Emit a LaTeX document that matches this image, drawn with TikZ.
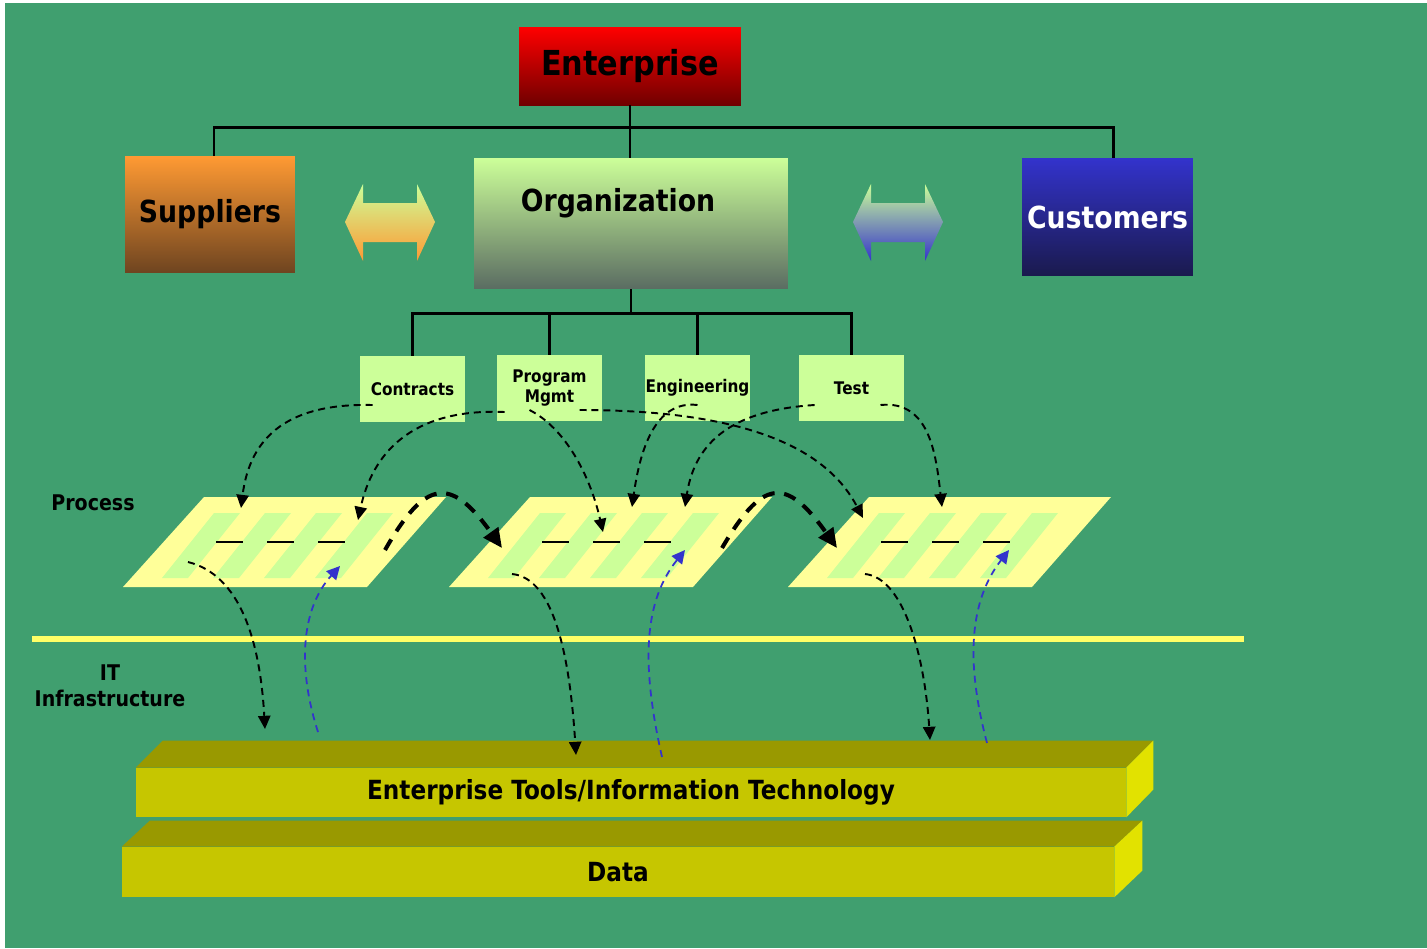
\documentclass[tikz,border=0pt]{standalone}
\usepackage{fontspec}
\setmainfont{DejaVu Sans}[FakeStretch=0.88]
\usetikzlibrary{arrows.meta}
\definecolor{bggreen}{RGB}{64,159,111}
\definecolor{unitgreen}{RGB}{204,255,153}
\definecolor{procyellow}{RGB}{255,255,153}
\definecolor{lineyellow}{RGB}{255,255,102}
\definecolor{barfront}{RGB}{198,198,0}
\definecolor{bartop}{RGB}{153,153,0}
\definecolor{barside}{RGB}{226,226,0}
\definecolor{fbblue}{RGB}{51,51,204}
\begin{document}
\begin{tikzpicture}[x=0.02cm, y=-0.02cm,
		headbox/.style={inner sep=0pt, text centered, font=\bfseries\fontsize{17.3}{20}\selectfont},
		unitbox/.style={fill=unitgreen, minimum width=2.1cm, minimum height=1.32cm, inner sep=0pt, align=center, font=\bfseries\fontsize{9.9}{11.9}\selectfont},
		tree/.style={draw=black, line width=1.6pt},
		flow/.style={draw=black, line width=1.1pt, dash pattern=on 4pt off 2.8pt, -{Triangle[length=7.5pt,width=7pt]}},
		handoff/.style={draw=black, line width=2.3pt, dash pattern=on 7pt off 5.5pt, -{Triangle[length=11pt,width=10pt]}},
		feedback/.style={draw=fbblue, line width=1pt, dash pattern=on 4pt off 3pt, -{Triangle[length=7.5pt,width=7.5pt]}},
		layerlabel/.style={font=\bfseries\fontsize{12.3}{14.7}\selectfont, align=center},
		bartext/.style={font=\bfseries\fontsize{15}{18}\selectfont},
	]
	% Background
	\useasboundingbox (0,0) rectangle (1427,948);
	\fill[white] (0,0) rectangle (1427,948);
	\fill[bggreen] (5,3) rectangle (1427,948);
	% Draw diagram elements
	\node (enterprise) [headbox,minimum width=4.44cm,minimum height=1.56cm,top color=red,bottom color={rgb,255:red,112;green,0;blue,0},font=\bfseries\fontsize{19.6}{22}\selectfont] at (630,66) {Enterprise};
	\node (suppliers) [headbox,minimum width=3.4cm,minimum height=2.34cm,top color={rgb,255:red,255;green,154;blue,51},bottom color={rgb,255:red,110;green,68;blue,32}] at (210,214.5) {Suppliers};
	\node (organization) [headbox,minimum width=6.28cm,minimum height=2.62cm,top color=unitgreen,bottom color={rgb,255:red,90;green,108;blue,98}] at (631,223.5) {};
	\node (orgtitle) [headbox] at (618,203) {Organization};
	\node (customers) [headbox,minimum width=3.42cm,minimum height=2.36cm,top color=fbblue,bottom color={rgb,255:red,26;green,26;blue,77},text=white] at (1107.5,217) {Customers};
	\node (contracts) [unitbox] at (412.5,389) {Contracts};
	\node (program) [unitbox] at (549.5,388) {Program\\Mgmt};
	\node (engineering) [unitbox] at (697.5,388) {Engineering};
	\node (test) [unitbox] at (851.5,388) {Test};
	\node (process) [layerlabel] at (93,503) {Process};
	\node (infra) [layerlabel] at (110,686) {IT\\Infrastructure};
	% Draw tree lines
	\draw[tree] (enterprise.south) -- (enterprise.south |- organization.north);
	\draw[tree] ([shift={(4,0)}]suppliers.north) -- ++(0,-28) -| ([shift={(6,0)}]customers.north);
	\draw[tree] (organization.south) -- ++(0,25);
	\draw[tree] (contracts.north) -- ++(0,-42) -| (test.north);
	\draw[tree] (program.north) -- ++(0,-41);
	\draw[tree] (engineering.north) -- ++(0,-41);
	% Exchange arrows
	\shade[top color=unitgreen,bottom color={rgb,255:red,255;green,153;blue,51}] (345,222) -- (363,184) -- (363,203) -- (417,203) -- (417,184) -- (435,222) -- (417,261) -- (417,242) -- (363,242) -- (363,261) -- cycle;
	\shade[top color=unitgreen,bottom color=fbblue] (853,222) -- (871,184) -- (871,203) -- (925,203) -- (925,184) -- (943,222) -- (925,261) -- (925,242) -- (871,242) -- (871,261) -- cycle;
	% Process planes
	\foreach \bx in {123,449,788} {
		\fill[procyellow] (\bx,587) -- (\bx+244,587) -- (\bx+323,497) -- (\bx+81,497) -- cycle;
		\foreach \i in {0,...,3}
			\fill[unitgreen] (\bx+39+51*\i,578) -- (\bx+65+51*\i,578) -- (\bx+117+51*\i,513) -- (\bx+91+51*\i,513) -- cycle;
		\foreach \i in {0,...,2}
			\draw[black,line width=0.8pt] (\bx+93+51*\i,542) -- (\bx+120+51*\i,542);
	}
	% Separator
	\draw[lineyellow,line width=3.4pt] (32,639) -- (1244,639);
	% IT layers
	\node (tools) [fill=barfront,minimum width=19.8cm,minimum height=0.98cm,inner sep=0pt,bartext] at (631,792.5) {Enterprise Tools/Information Technology};
	\fill[bartop] (tools.north west) -- ++(27,-27) -- ([shift={(27,-27)}]tools.north east) -- (tools.north east) -- cycle;
	\fill[barside] (tools.north east) -- ++(27,-27) -- ++(0,49) -- (tools.south east) -- cycle;
	\node (data) [fill=barfront,minimum width=19.84cm,minimum height=1cm,inner sep=0pt,bartext] at (618,872) {Data};
	\fill[bartop] (data.north west) -- ++(28,-26) -- ([shift={(28,-26)}]data.north east) -- (data.north east) -- cycle;
	\fill[barside] (data.north east) -- ++(28,-26) -- ++(0,50) -- (data.south east) -- cycle;
	% Arrow end points
	\coordinate (p1a) at (241,508);
	\coordinate (p1b) at (358,520);
	\coordinate (p2a) at (603,532);
	\coordinate (p2b) at (632,507);
	\coordinate (p2c) at (685,507);
	\coordinate (p3a) at (863,518);
	\coordinate (p3b) at (942,507);
	\coordinate (p1out) at (385,550);
	\coordinate (p2in) at (502,548);
	\coordinate (p2out) at (722,548);
	\coordinate (p3in) at (837,548);
	\coordinate (p1down) at (188,562);
	\coordinate (p2down) at (512,574);
	\coordinate (p3down) at (865,574);
	\coordinate (p1up) at (340,566);
	\coordinate (p2up) at (685,550);
	\coordinate (p3up) at (1009,550);
	\coordinate (it1in) at (265,729);
	\coordinate (it2in) at (576,755);
	\coordinate (it3in) at (930,740);
	\coordinate (it1out) at (318,732);
	\coordinate (it2out) at (662,757);
	\coordinate (it3out) at (987,743);
	% Draw arrows between elements
	\draw[flow] ([shift={(13,16)}]contracts.west) .. controls (290,403) and (250,435) .. (p1a);
	\draw[flow] ([shift={(8,24)}]program.west) .. controls (410,408) and (372,455) .. (p1b);
	\draw[flow] ([shift={(-20,22)}]program.center) .. controls (565,428) and (590,475) .. (p2a);
	\draw[flow] ([shift={(0,17)}]engineering.center) .. controls (655,400) and (640,450) .. (p2b);
	\draw[flow] ([shift={(16,17)}]test.west) .. controls (735,410) and (695,440) .. (p2c);
	\draw[flow] ([shift={(30,22)}]program.center) .. controls (760,410) and (830,455) .. (p3a);
	\draw[flow] ([shift={(29,17)}]test.center) .. controls (930,400) and (936,455) .. (p3b);
	\draw[handoff] (p1out) .. controls (425,480) and (450,475) .. (p2in);
	\draw[handoff] (p2out) .. controls (762,480) and (785,475) .. (p3in);
	\draw[flow] (p1down) .. controls (240,575) and (260,640) .. (it1in);
	\draw[flow] (p2down) .. controls (555,578) and (570,660) .. (it2in);
	\draw[flow] (p3down) .. controls (905,578) and (925,660) .. (it3in);
	\draw[feedback] (it1out) .. controls (298,670) and (300,610) .. (p1up);
	\draw[feedback] (it2out) .. controls (640,660) and (645,600) .. (p2up);
	\draw[feedback] (it3out) .. controls (965,660) and (970,600) .. (p3up);
\end{tikzpicture}
\end{document}
